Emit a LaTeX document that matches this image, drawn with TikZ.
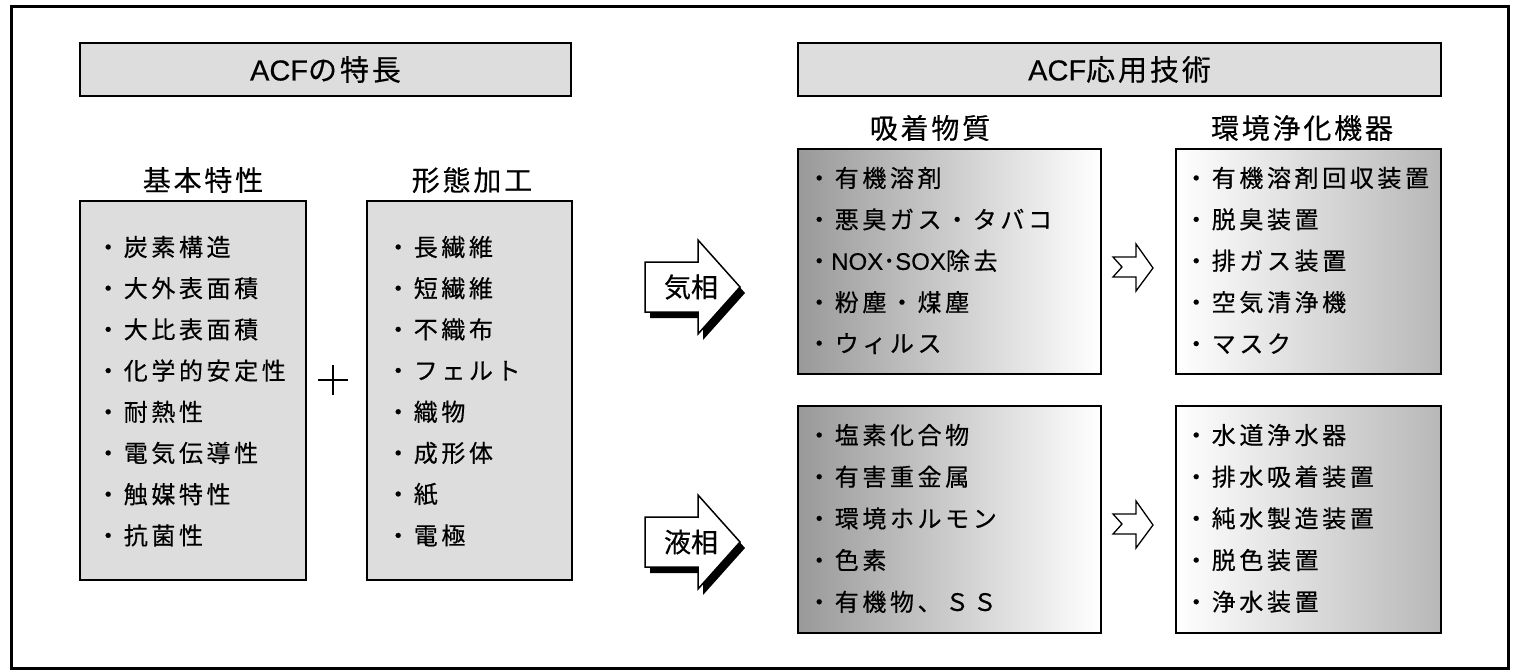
\documentclass[tikz,border=0pt]{standalone}
\usepackage{fontspec}
\setmainfont{Liberation Sans}
\newfontfamily\jp[FakeBold=0.4]{Noto Sans CJK JP}
\newfontfamily\jpi[LetterSpace=15,FakeBold=0.4]{Noto Sans CJK JP}
\newfontfamily\jph[LetterSpace=10,FakeBold=0.4]{Noto Sans CJK JP}
\newfontfamily\lat[FakeBold=0.3]{Liberation Sans}
\definecolor{boxgray}{HTML}{DDDDDD}
\definecolor{gdarkA}{gray}{0.6}
\definecolor{gdarkB}{gray}{0.72}
\tikzset{
  frm/.style={draw, line width=3pt, anchor=north west, inner sep=0pt},
  hdr/.style={draw, line width=2pt, fill=boxgray, anchor=north west, inner sep=0pt,
              font=\jph\fontsize{29}{32}\selectfont},
  graybox/.style={draw, line width=2pt, fill=boxgray, anchor=north west, inner sep=0pt},
  gboxA/.style={draw, line width=2pt, left color=gdarkA, right color=white, anchor=north west, inner sep=0pt},
  gboxB/.style={draw, line width=2pt, left color=white, right color=gdarkB, anchor=north west, inner sep=0pt},
  item/.style={anchor=west, inner sep=0pt, font=\jpi\fontsize{24}{28}\selectfont},
  ttl/.style={inner sep=0pt, font=\jph\fontsize{28}{32}\selectfont},
  lbl/.style={inner sep=0pt, font=\jp\fontsize{27}{30}\selectfont},
  bigarr/.pic={
    \begin{scope}[shift={(5,6)}]
      \fill[black] (0,-25) -- (53,-25) -- (53,-47) -- (95,0) -- (53,47) -- (53,25) -- (0,25) -- cycle;
    \end{scope}
    \draw[line width=1.5pt, fill=white, line join=miter] (0,-25) -- (53,-25) -- (53,-47) -- (95,0) -- (53,47) -- (53,25) -- (0,25) -- cycle;
  },
  smallarr/.pic={
    \draw[line width=1.3pt, fill=white, line join=miter] (0,-10) -- (23,-10) -- (23,-23) -- (40,1) -- (23,24) -- (23,10) -- (0,10) -- (9,0) -- cycle;
  }
}
\begin{document}
\begin{tikzpicture}[x=1pt,y=-1pt]
\useasboundingbox (0,0) rectangle (1517,670);
\fill[white] (0,0) rectangle (1517,670);
\node[frm, minimum width=1497, minimum height=662] (frame) at (10,5) {};

% headers
\node[hdr, minimum width=491, minimum height=53] (h1) at (79,42) {{\lat ACF}の特長};
\node[hdr, minimum width=643, minimum height=53] (h2) at (797,42) {{\lat ACF}応用技術};

% left part
\node[ttl] (t1) at (203,180) {基本特性};
\node[ttl] (t2) at (472,180) {形態加工};
\node[graybox, minimum width=226, minimum height=379] (b1) at (79,200) {};
\node[graybox, minimum width=205, minimum height=379] (b2) at (366,200) {};
\foreach \t [count=\i] in {炭素構造,大外表面積,大比表面積,化学的安定性,耐熱性,電気伝導性,触媒特性,抗菌性}
  \node[item] (b1i\i) at (96,{247+41.2*(\i-1)}) {・\t};
\foreach \t [count=\i] in {長繊維,短繊維,不織布,フェルト,織物,成形体,紙,電極}
  \node[item] (b2i\i) at (386,{247+41.2*(\i-1)}) {・\t};
\coordinate (plus) at (333,380);
\draw[line width=2pt] ([xshift=-15pt]plus) -- ([xshift=15pt]plus);
\draw[line width=2pt] ([yshift=-15pt]plus) -- ([yshift=15pt]plus);

% big arrows
\pic at (645,287) {bigarr};
\node[lbl] (gas) at (691,287) {気相};
\pic at (645,542) {bigarr};
\node[lbl] (liq) at (691,542) {液相};

% right part
\node[ttl] (tA) at (930,128) {吸着物質};
\node[ttl] (tB) at (1302,128) {環境浄化機器};
\node[gboxA, minimum width=303, minimum height=225] (g1) at (797,148) {};
\node[gboxB, minimum width=265, minimum height=225] (g2) at (1175,148) {};
\node[gboxA, minimum width=303, minimum height=227] (g3) at (797,405) {};
\node[gboxB, minimum width=265, minimum height=227] (g4) at (1175,405) {};
\foreach \t [count=\i] in {有機溶剤,悪臭ガス・タバコ,{\lat NOX}･{\lat SOX}除去,粉塵・煤塵,ウィルス}
  \node[item] (g1i\i) at (807,{178+41.4*(\i-1)}) {・\t};
\foreach \t [count=\i] in {有機溶剤回収装置,脱臭装置,排ガス装置,空気清浄機,マスク}
  \node[item] (g2i\i) at (1184,{178+41.4*(\i-1)}) {・\t};
\foreach \t [count=\i] in {塩素化合物,有害重金属,環境ホルモン,色素,有機物、ＳＳ}
  \node[item] (g3i\i) at (807,{435+41.7*(\i-1)}) {・\t};
\foreach \t [count=\i] in {水道浄水器,排水吸着装置,純水製造装置,脱色装置,浄水装置}
  \node[item] (g4i\i) at (1184,{435+41.7*(\i-1)}) {・\t};

% small arrows
\pic at (1113,267) {smallarr};
\pic at (1113,524) {smallarr};
\end{tikzpicture}
\end{document}
